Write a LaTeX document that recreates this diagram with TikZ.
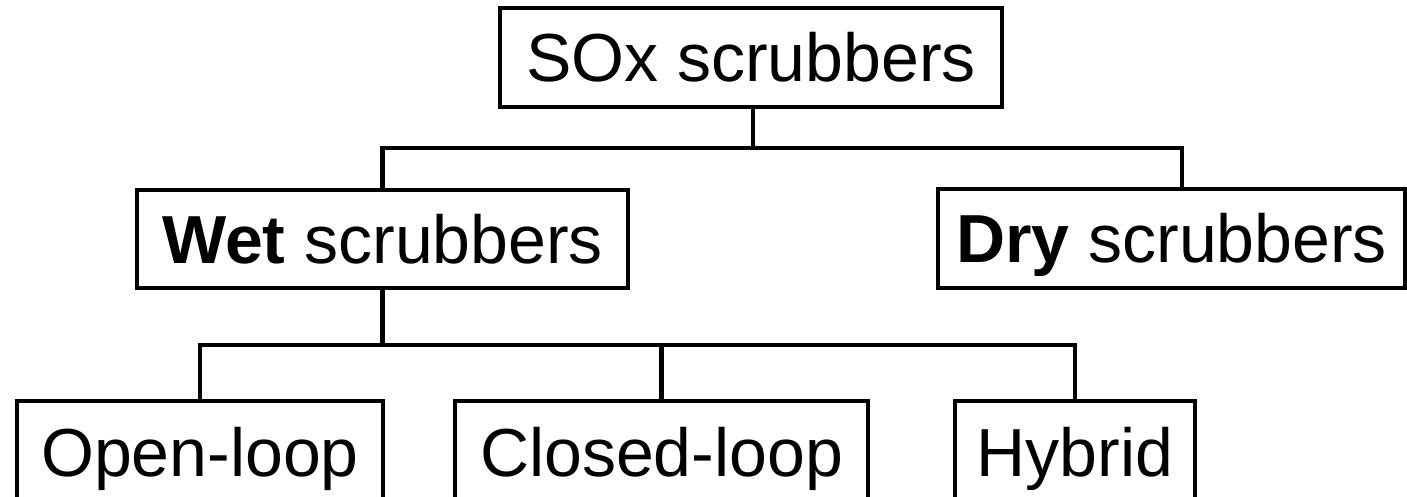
\documentclass[tikz,border=0pt]{standalone}
\usepackage{fontspec}
\setmainfont{Liberation Sans}
\begin{document}
\begin{tikzpicture}[x=0.5pt,y=-0.5pt,
  box/.style={draw=black,line width=2pt,fill=white,inner sep=0pt,
    font=\fontsize{34}{40}\selectfont,text height=24.5pt,text depth=0pt},
  link/.style={draw=black,line width=2.2pt}]
\useasboundingbox (0,0) rectangle (1407,497);
\clip (0,0) rectangle (1407,497);
\node[box,minimum width=251pt,minimum height=49.5pt] (top) at (751,57.5) {SOx scrubbers};
\node[box,minimum width=245.5pt,minimum height=49pt] (wet) at (382.5,239) {{\bfseries Wet} scrubbers};
\node[box,minimum width=233.5pt,minimum height=49.5pt] (dry) at (1171.5,238.5) {{\bfseries Dry} scrubbers};
\node[box,minimum width=183pt,minimum height=51pt] (open) at (200,452) {Open-loop};
\node[box,minimum width=206.5pt,minimum height=51pt] (closed) at (661.5,452) {Closed-loop};
\node[box,minimum width=120pt,minimum height=51pt] (hybrid) at (1075,452) {Hybrid};
\coordinate (j1) at (753,148);
\coordinate (j2) at (382.5,345);
\coordinate (drytop) at (1182,189);
\draw[link] (top.south -| j1) -- (j1);
\draw[link] (wet.north) |- (j1) -| (drytop);
\draw[link] (wet.south) -- (j2);
\draw[link] (open.north) |- (j2) -| (hybrid.north);
\draw[link] (closed.north) -- (closed.north |- j2);
\end{tikzpicture}
\end{document}
